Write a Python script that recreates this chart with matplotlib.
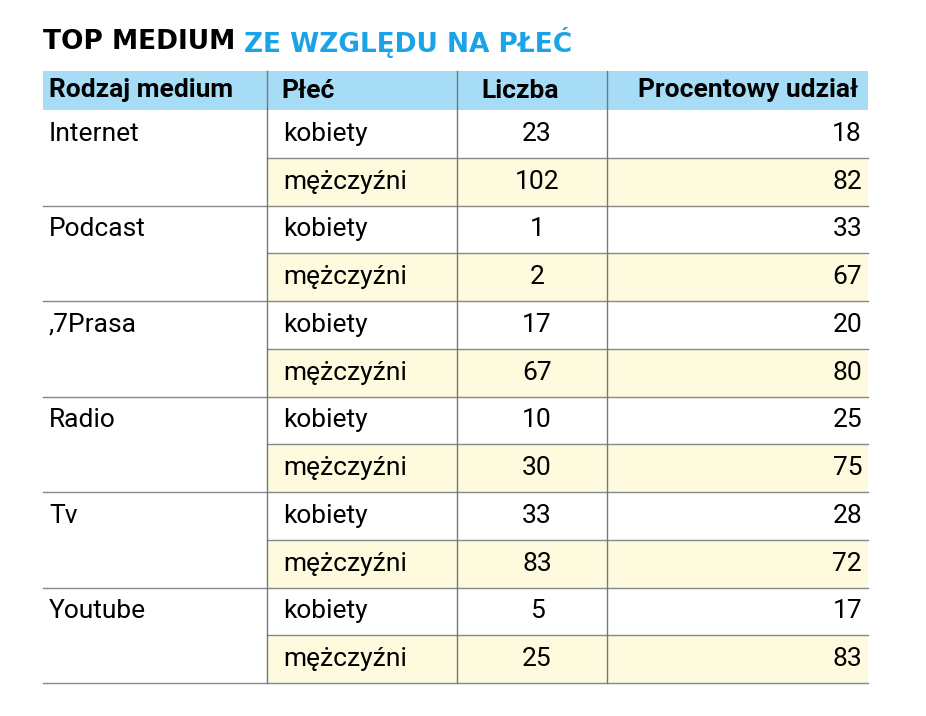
import matplotlib
matplotlib.use("Agg")
import matplotlib.pyplot as plt

title_black = "TOP MEDIUM "
title_blue = "ZE WZGLĘDU NA PŁEĆ"
headers = ["Rodzaj medium", "Płeć", "Liczba", "Procentowy udział"]
media = ["Internet", "Podcast", ",7Prasa", "Radio", "Tv", "Youtube"]
genders = ["kobiety", "mężczyźni"]
counts = [[23, 102], [1, 2], [17, 67], [10, 30], [33, 83], [5, 25]]
percents = [[18, 82], [33, 67], [20, 80], [25, 75], [28, 72], [17, 83]]

fig = plt.figure(figsize=(9.26, 7.16), dpi=100)
ax = fig.add_axes([0, 0, 1, 1])
ax.set_xlim(0, 926); ax.set_ylim(716, 0); ax.axis("off")
plt.rcParams['font.family'] = ['Roboto', 'DejaVu Sans']

cols = [43, 267, 457, 607, 868]
htop, hbot = 71, 110
rh = (683 - hbot) / 12
fs = 19

t = ax.text(43, 42, title_black, fontsize=19, fontweight='black', va='center', color='black', family='DejaVu Sans')
fig.canvas.draw()
bb = t.get_window_extent().transformed(ax.transData.inverted())
ax.text(bb.x1, 42, title_blue, fontsize=19, fontweight='black', va='center', color='#1aa3e6', family='DejaVu Sans')

ax.add_patch(plt.Rectangle((cols[0], htop), cols[4]-cols[0], hbot-htop, color='#a6dcf6', lw=0))
hx = [cols[0]+6, cols[1]+14, 520, cols[4]-10]
has = ['left', 'left', 'center', 'right']
for h, x, a in zip(headers, hx, has):
    ax.text(x, (htop+hbot)/2, h, fontsize=fs, fontweight='bold', ha=a, va='center')

for i, m in enumerate(media):
    for j, g in enumerate(genders):
        r = i*2 + j
        y0 = hbot + r*rh
        yc = y0 + rh/2
        if j == 1:
            ax.add_patch(plt.Rectangle((cols[1], y0), cols[4]-cols[1], rh, color='#fdfade', lw=0))
        if j == 0:
            ax.text(cols[0]+6, yc, m, fontsize=fs, va='center')
        ax.text(cols[1]+16, yc, g, fontsize=fs, va='center')
        ax.text(537, yc, str(counts[i][j]), fontsize=fs, va='center', ha='center')
        ax.text(cols[4]-6, yc, str(percents[i][j]), fontsize=fs, va='center', ha='right')
        yb = y0 + rh
        x0 = cols[0] if j == 1 else cols[1]
        ax.plot([x0, cols[4]], [yb, yb], color='#888888', lw=1)
for x in cols[1:4]:
    ax.plot([x, x], [htop, 683], color='#777777', lw=1)

fig.savefig("out.png", dpi=100)
